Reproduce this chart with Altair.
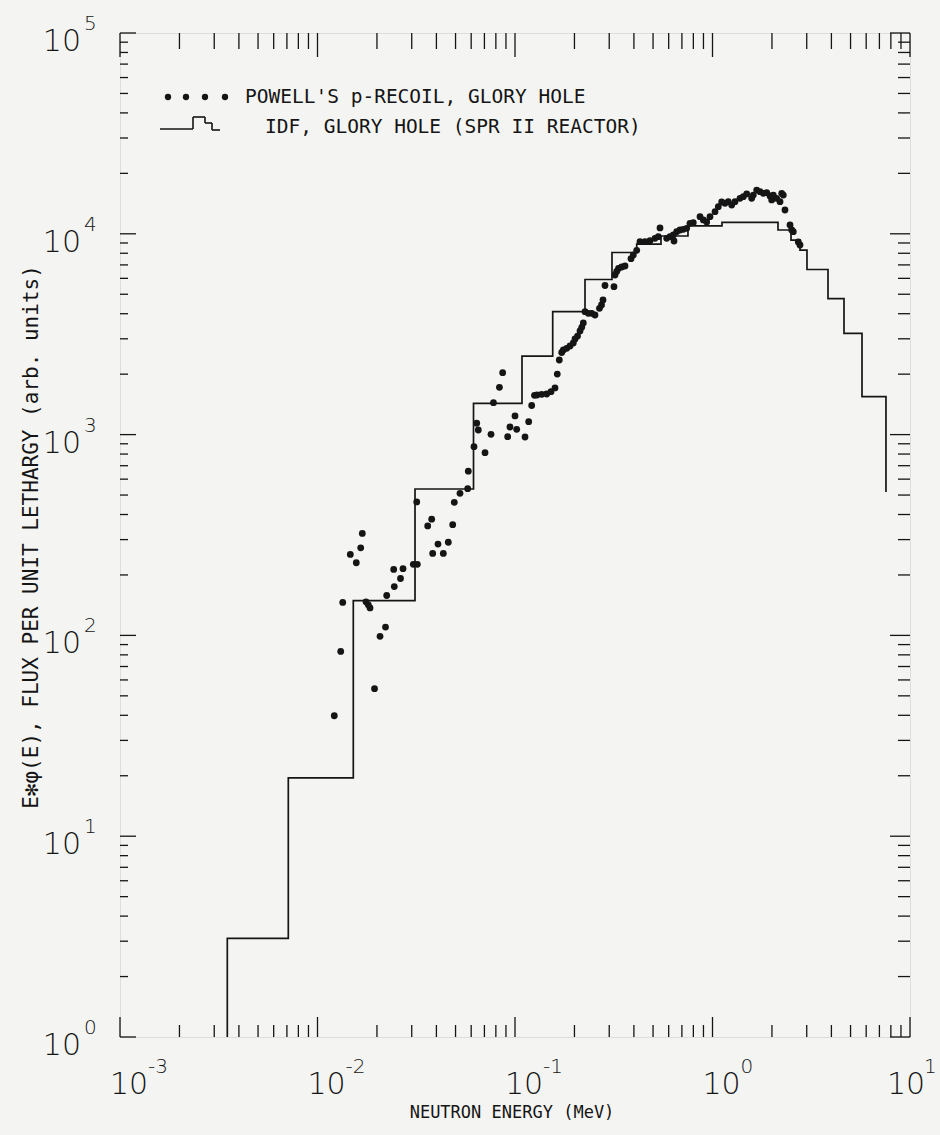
import altair as alt
import pandas as pd

# Powell's proton-recoil spectrum, glory hole (energy in MeV, E*phi(E) in arb. units)
powell_energy_mev = [
    0.01216, 0.01311, 0.01342, 0.01466, 0.01572, 0.01655, 0.01686, 0.0176, 0.01808, 0.01845,
    0.01944, 0.02073, 0.0221, 0.02241, 0.02448, 0.02632, 0.02431, 0.0271, 0.03056, 0.03202,
    0.0318, 0.03614, 0.03786, 0.0383, 0.04074, 0.04335, 0.04595, 0.04837, 0.04928, 0.05266,
    0.05761, 0.05801, 0.062, 0.064, 0.0652, 0.0705, 0.0756, 0.0778, 0.0834, 0.0866,
    0.0918, 0.0943, 0.1, 0.102, 0.1124, 0.1173, 0.1215, 0.1255, 0.1292, 0.1365,
    0.1447, 0.1522, 0.1594, 0.1637, 0.1676, 0.1724, 0.1757, 0.1827, 0.1899, 0.1973,
    0.2013, 0.2073, 0.2134, 0.2177, 0.2218, 0.2262, 0.235, 0.2445, 0.2541, 0.2677,
    0.2742, 0.279, 0.2856, 0.3171, 0.3208, 0.3272, 0.3342, 0.347, 0.3606, 0.3867,
    0.3972, 0.4133, 0.4294, 0.4551, 0.4826, 0.5116, 0.5317, 0.5423, 0.5863, 0.6093,
    0.6332, 0.6384, 0.6586, 0.6844, 0.7113, 0.74, 0.769, 0.7992, 0.8645, 0.8985,
    0.9346, 0.9712, 1.03, 1.07, 1.113, 1.157, 1.202, 1.251, 1.3, 1.378,
    1.432, 1.49, 1.579, 1.609, 1.674, 1.74, 1.808, 1.881, 1.955, 1.994,
    2.032, 2.113, 2.197, 2.241, 2.283, 2.328, 2.469, 2.518, 2.565, 2.719, 2.773,
]
powell_flux = [
    39.8, 83.2, 146, 253, 230, 273, 322, 147, 142, 137,
    54.3, 99, 110, 158, 175, 192, 213, 215, 226, 226,
    462, 351, 379, 256, 285, 256, 291, 356, 460, 510,
    538, 657, 871, 1139, 1054, 813, 1003, 1442, 1720, 2034,
    976, 1091, 1238, 1063, 973, 1159, 1396, 1569, 1575, 1588,
    1593, 1636, 1707, 2003, 2352, 2564, 2638, 2690, 2762, 2859,
    2993, 3097, 3281, 3422, 3595, 4094, 4019, 4019, 3941, 4256,
    4420, 4680, 5527, 5452, 6234, 6492, 6718, 6835, 6913, 7516,
    7843, 8276, 9134, 9134, 9240, 9497, 9674, 10690, 9497, 9674,
    9863, 9208, 10244, 10445, 10529, 10651, 11280, 11360, 12170, 11720,
    11450, 12170, 12890, 13650, 14400, 14190, 14450, 13910, 14450, 15020,
    15300, 15790, 15020, 15600, 16520, 16210, 15910, 16020, 15430, 14740,
    15600, 15020, 14450, 15910, 15600, 13140, 11060, 10445, 10244, 9104, 8796,
]

# IDF unfolded spectrum, glory hole of SPR II: group edges (MeV) and group flux
idf_edges_mev = [
    0.003494, 0.007115, 0.01518, 0.03117, 0.06165, 0.1085, 0.1552, 0.2262, 0.3098, 0.4133,
    0.5485, 0.7513, 1.117, 2.146, 2.498, 2.773, 3.009, 3.844, 4.633, 5.715, 7.557,
]
idf_flux = [
    3.1, 19.5, 149, 536, 1430, 2460, 4100, 5920, 8070, 8890,
    9750, 10940, 11390, 10445, 9310, 8300, 6640, 4750, 3195, 1545,
]
idf_floor_flux = 1.0   # histogram rises from the bottom of the plot
idf_tail_flux = 518    # value the last group drops to at its upper edge

# axis decoration
x_decades = [1e-3, 1e-2, 1e-1, 1.0, 10.0]
x_exponents = ["-3", "-2", "-1", "0", "1"]
y_decades = [1.0, 10.0, 100.0, 1e3, 1e4, 1e5]
y_exponents = ["0", "1", "2", "3", "4", "5"]
minor_multipliers = [2, 3, 4, 5, 6, 7, 8, 9]

W, H = 790, 1004
INK = "#151515"
FONT = "DejaVu Sans"
LETTERING = "DejaVu Sans Mono"

x_scale = alt.Scale(type="log", domain=[1e-3, 10], nice=False)
y_scale = alt.Scale(type="log", domain=[1, 1e5], nice=False)


def xq(field):
    return alt.X(field, type="quantitative", scale=x_scale, axis=None)


def yq(field):
    return alt.Y(field, type="quantitative", scale=y_scale, axis=None)


one_row = alt.Data(values=[{}])

# step outline of the histogram
step_E = [idf_edges_mev[0]] + idf_edges_mev
step_F = [idf_floor_flux] + idf_flux + [idf_tail_flux]
step_df = pd.DataFrame({"E": step_E, "F": step_F, "i": list(range(len(step_E)))})

points_df = pd.DataFrame({"E": powell_energy_mev, "F": powell_flux})

layers = []

# histogram
layers.append(
    alt.Chart(step_df)
    .mark_line(interpolate="step-after", color=INK, strokeWidth=1.7, clip=True)
    .encode(x=xq("E"), y=yq("F"), order="i:Q")
)

# measured points
layers.append(
    alt.Chart(points_df)
    .mark_circle(size=46, color=INK, opacity=1)
    .encode(x=xq("E"), y=yq("F"))
)

# inward tick marks on all four sides
x_minor = [m * 10.0 ** d for d in range(-3, 1) for m in minor_multipliers]
y_minor = [m * 10.0 ** d for d in range(0, 5) for m in minor_multipliers]
for vals, length in ((x_minor, 12), (x_decades, 20)):
    df = pd.DataFrame({"v": vals})
    layers.append(
        alt.Chart(df).mark_rule(color=INK, strokeWidth=1.3)
        .encode(x=xq("v"), y=alt.value(H), y2=alt.value(H - length))
    )
    layers.append(
        alt.Chart(df).mark_rule(color=INK, strokeWidth=1.3)
        .encode(x=xq("v"), y=alt.value(0), y2=alt.value(length + 4))
    )
for vals, length in ((y_minor, 12), (y_decades, 20)):
    df = pd.DataFrame({"v": vals})
    layers.append(
        alt.Chart(df).mark_rule(color=INK, strokeWidth=1.3)
        .encode(y=yq("v"), x=alt.value(0), x2=alt.value(length - 4))
    )
    layers.append(
        alt.Chart(df).mark_rule(color=INK, strokeWidth=1.3)
        .encode(y=yq("v"), x=alt.value(W), x2=alt.value(W - length))
    )

# decade labels: "10" with a raised exponent
def decade_labels(df, base_dx, exp_dx):
    return [
        alt.Chart(df).mark_text(font=FONT, fontSize=30, fontWeight=300, color=INK,
                                align="center", baseline="middle", dx=base_dx)
        .encode(x=xq("v"), y=alt.value(H + 48), text="base:N"),
        alt.Chart(df).mark_text(font=FONT, fontSize=20, fontWeight=300, color=INK,
                                align="left", baseline="middle", dx=exp_dx)
        .encode(x=xq("v"), y=alt.value(H + 30), text="exp:N"),
    ]


xlab = pd.DataFrame({"v": x_decades, "exp": x_exponents, "base": ["10"] * len(x_decades)})
layers += decade_labels(xlab.iloc[:-1], 9, 28)
layers += decade_labels(xlab.iloc[-1:], -4, 14)

ylab = pd.DataFrame({"v": y_decades, "exp": y_exponents, "base": ["10"] * len(y_decades)})
layers.append(
    alt.Chart(ylab).mark_text(font=FONT, fontSize=30, fontWeight=300, color=INK,
                              align="right", baseline="middle", dy=9)
    .encode(y=yq("v"), x=alt.value(-39), text="base:N")
)
layers.append(
    alt.Chart(ylab).mark_text(font=FONT, fontSize=20, fontWeight=300, color=INK,
                              align="left", baseline="middle", dy=-9)
    .encode(y=yq("v"), x=alt.value(-36), text="exp:N")
)

# axis titles
layers.append(
    alt.Chart(one_row).mark_text(font=LETTERING, fontSize=17, color=INK, align="center",
                                 baseline="middle", text="NEUTRON ENERGY (MeV)")
    .encode(x=alt.value(392), y=alt.value(H + 76))
)
layers.append(
    alt.Chart(one_row).mark_text(font=LETTERING, fontSize=21, color=INK, align="center",
                                 baseline="middle", angle=270,
                                 text="E\u273bφ(E), FLUX PER UNIT LETHARGY (arb. units)")
    .encode(x=alt.value(-88), y=alt.value(504))
)

# legend: dotted series
for px in (48, 66, 85, 105):
    layers.append(
        alt.Chart(one_row).mark_circle(size=40, color=INK, opacity=1)
        .encode(x=alt.value(px), y=alt.value(64))
    )
layers.append(
    alt.Chart(one_row).mark_text(font=LETTERING, fontSize=19.5, color=INK, align="left",
                                 baseline="middle", text="POWELL'S p-RECOIL, GLORY HOLE")
    .encode(x=alt.value(125), y=alt.value(64))
)
# legend: histogram glyph
glyph = [(40, 96, 73, 96), (73, 96, 73, 84), (73, 84, 85, 84), (85, 84, 85, 90),
         (85, 90, 92, 90), (92, 90, 92, 97), (92, 97, 100, 97)]
for x1, y1, x2, y2 in glyph:
    layers.append(
        alt.Chart(one_row).mark_rule(color=INK, strokeWidth=1.6)
        .encode(x=alt.value(x1), x2=alt.value(x2), y=alt.value(y1), y2=alt.value(y2))
    )
layers.append(
    alt.Chart(one_row).mark_text(font=LETTERING, fontSize=19.5, color=INK, align="left",
                                 baseline="middle", text="IDF, GLORY HOLE (SPR II REACTOR)")
    .encode(x=alt.value(145), y=alt.value(94))
)

chart = (
    alt.layer(*layers)
    .properties(
        width=W,
        height=H,
        autosize=alt.AutoSizeParams(type="none"),
        padding={"left": 120, "top": 33, "right": 30, "bottom": 98},
    )
    .configure_view(stroke=INK, strokeWidth=1.6)
    .configure(background="#f4f4f2")
)

chart.save("out.html", embed_options={"renderer": "svg", "actions": False})
